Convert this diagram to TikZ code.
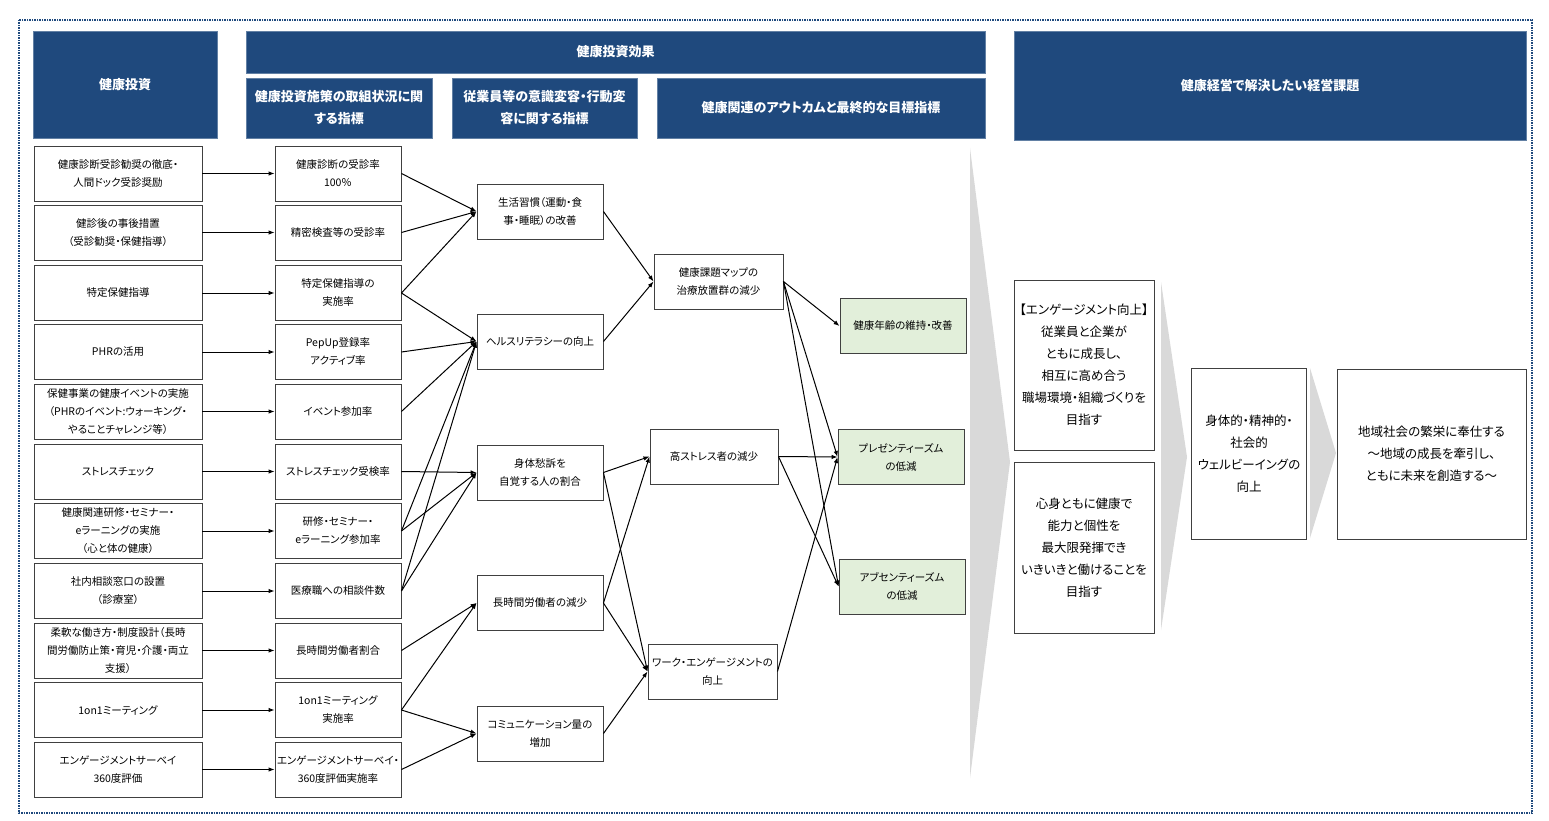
\documentclass[tikz,border=0pt]{standalone}
\usepackage{fontspec}
\setmainfont{Noto Sans CJK JP}[RawFeature=+palt]
\usetikzlibrary{arrows.meta}
\definecolor{headblue}{RGB}{31,73,125}
\definecolor{boxline}{RGB}{64,64,64}
\definecolor{goalgreen}{RGB}{226,239,218}
\definecolor{chevgray}{RGB}{217,217,217}
\newcommand{\boxfont}{\fontsize{10.5}{18}\selectfont}
\newcommand{\headfont}{\fontsize{13}{22}\selectfont\bfseries}
\newcommand{\issuefont}{\fontsize{12.5}{22}\selectfont}
\begin{document}
\begin{tikzpicture}[%
    x=1pt, y=-1pt, > = {Latex[length=6pt, width=4.5pt]},
    every node/.style={align=center, inner sep=1pt},
    head/.style={fill=headblue, draw=headblue!70!white, text=white, font=\headfont},
    box/.style={draw=boxline, fill=white, line width=0.9pt, font=\boxfont, minimum height=55},
    goal/.style={box, fill=goalgreen},
    issue/.style={draw=boxline, fill=white, line width=0.9pt, font=\issuefont},
    link/.style={->, line width=1pt}]
    \useasboundingbox (0,0) rectangle (1549,821);
    \draw[headblue, line width=1.5pt, dash pattern=on 1.5pt off 1pt] (19,20) rectangle (1532,813);

    % grey chevrons
    \fill[chevgray] (970,148) -- (1010,462) -- (970,778) -- cycle;
    \fill[chevgray] (1161,282) -- (1187,457) -- (1161,630) -- cycle;
    \fill[chevgray] (1310,368) -- (1336,453) -- (1310,538) -- cycle;

    % headers
    \node[head, minimum width=184, minimum height=107] (InvHead) at (125,84.5) {健康投資};
    \node[head, minimum width=739, minimum height=42] (EffectHead) at (615.5,52) {健康投資効果};
    \node[head, minimum width=186, minimum height=60] (MeasureHead) at (339,108) {健康投資施策の取組状況に関\\する指標};
    \node[head, minimum width=185, minimum height=60] (BehaviorHead) at (544.5,108) {従業員等の意識変容・行動変\\容に関する指標};
    \node[head, minimum width=328, minimum height=60] (OutcomeHead) at (821,108) {健康関連のアウトカムと最終的な目標指標};
    \node[head, minimum width=512, minimum height=109] (IssueHead) at (1270,85.5) {健康経営で解決したい経営課題};

    % investments
    \node[box, minimum width=168] (Checkup) at (118,173.5) {健康診断受診勧奨の徹底・\\人間ドック受診奨励};
    \node[box, minimum width=168] (FollowUp) at (118,232.5) {健診後の事後措置\\（受診勧奨・保健指導）};
    \node[box, minimum width=168] (Guidance) at (118,293) {特定保健指導};
    \node[box, minimum width=168] (PHR) at (118,352) {PHRの活用};
    \node[box, minimum width=168] (Event) at (118,411.5) {保健事業の健康イベントの実施\\（PHRのイベント:ウォーキング・\\やることチャレンジ等）};
    \node[box, minimum width=168] (Stress) at (118,471.5) {ストレスチェック};
    \node[box, minimum width=168] (Seminar) at (118,531) {健康関連研修・セミナー・\\eラーニングの実施\\（心と体の健康）};
    \node[box, minimum width=168] (Consult) at (118,591) {社内相談窓口の設置\\（診療室）};
    \node[box, minimum width=168] (Flex) at (118,650.5) {柔軟な働き方・制度設計（長時\\間労働防止策・育児・介護・両立\\支援）};
    \node[box, minimum width=168] (OneOnOne) at (118,710) {1on1ミーティング};
    \node[box, minimum width=168] (Survey) at (118,769.5) {エンゲージメントサーベイ\\360度評価};

    % measures
    \node[box, minimum width=126] (CheckupRate) at (338,173.5) {健康診断の受診率\\100％};
    \node[box, minimum width=126] (ExamRate) at (338,232.5) {精密検査等の受診率};
    \node[box, minimum width=126] (GuidanceRate) at (338,293) {特定保健指導の\\実施率};
    \node[box, minimum width=126] (PepUpRate) at (338,352) {PepUp登録率\\アクティブ率};
    \node[box, minimum width=126] (EventRate) at (338,411.5) {イベント参加率};
    \node[box, minimum width=126] (StressRate) at (338,471.5) {ストレスチェック受検率};
    \node[box, minimum width=126] (SeminarRate) at (338,531) {研修・セミナー・\\eラーニング参加率};
    \node[box, minimum width=126] (ConsultCount) at (338,591) {医療職への相談件数};
    \node[box, minimum width=126] (LongHoursRate) at (338,650.5) {長時間労働者割合};
    \node[box, minimum width=126] (OneOnOneRate) at (338,710) {1on1ミーティング\\実施率};
    \node[box, minimum width=126] (SurveyRate) at (338,769.5) {エンゲージメントサーベイ・\\360度評価実施率};

    % behaviour
    \node[box, minimum width=126] (Habit) at (540,211.5) {生活習慣（運動・食\\事・睡眠）の改善};
    \node[box, minimum width=126] (Literacy) at (540,341.5) {ヘルスリテラシーの向上};
    \node[box, minimum width=126] (Complaint) at (540,472.5) {身体愁訴を\\自覚する人の割合};
    \node[box, minimum width=126] (LongHours) at (540,603) {長時間労働者の減少};
    \node[box, minimum width=126] (Communication) at (540,733.5) {コミュニケーション量の\\増加};

    % outcomes
    \node[box, minimum width=129] (HealthMap) at (718.5,281.5) {健康課題マップの\\治療放置群の減少};
    \node[box, minimum width=128] (HighStress) at (714,456.5) {高ストレス者の減少};
    \node[box, minimum width=129] (WorkEngage) at (712.5,671.5) {ワーク・エンゲージメントの\\向上};
    \node[goal, minimum width=126] (HealthAge) at (903,326) {健康年齢の維持・改善};
    \node[goal, minimum width=126] (Presenteeism) at (901,457) {プレゼンティーズム\\の低減};
    \node[goal, minimum width=126] (Absenteeism) at (902,586.5) {アブセンティーズム\\の低減};

    % issues
    \node[issue, minimum width=140, minimum height=170] (Engagement) at (1084,365) {【エンゲージメント向上】\\従業員と企業が\\ともに成長し、\\相互に高め合う\\職場環境・組織づくりを\\目指す};
    \node[issue, minimum width=140, minimum height=171] (MindBody) at (1084,547.5) {心身ともに健康で\\能力と個性を\\最大限発揮でき\\いきいきと働けることを\\目指す};
    \node[issue, minimum width=115, minimum height=171] (WellBeing) at (1249,453.5) {身体的・精神的・\\社会的\\ウェルビーイングの\\向上};
    \node[issue, minimum width=189, minimum height=170] (Community) at (1431.5,454) {地域社会の繁栄に奉仕する\\～地域の成長を牽引し、\\ともに未来を創造する～};

    \draw[link] (Checkup.east) -- (CheckupRate.west);
    \draw[link] (FollowUp.east) -- (ExamRate.west);
    \draw[link] (Guidance.east) -- (GuidanceRate.west);
    \draw[link] (PHR.east) -- (PepUpRate.west);
    \draw[link] (Event.east) -- (EventRate.west);
    \draw[link] (Stress.east) -- (StressRate.west);
    \draw[link] (Seminar.east) -- (SeminarRate.west);
    \draw[link] (Consult.east) -- (ConsultCount.west);
    \draw[link] (Flex.east) -- (LongHoursRate.west);
    \draw[link] (OneOnOne.east) -- (OneOnOneRate.west);
    \draw[link] (Survey.east) -- (SurveyRate.west);

    \draw[link] (CheckupRate.east) -- (Habit.west);
    \draw[link] (ExamRate.east) -- (Habit.west);
    \draw[link] (GuidanceRate.east) -- (Habit.west);
    \draw[link] (GuidanceRate.east) -- (Literacy.west);
    \draw[link] (PepUpRate.east) -- (Literacy.west);
    \draw[link] (EventRate.east) -- (Literacy.west);
    \draw[link] (SeminarRate.east) -- (Literacy.west);
    \draw[link] (ConsultCount.east) -- (Literacy.west);
    \draw[link] (StressRate.east) -- (Complaint.west);
    \draw[link] (SeminarRate.east) -- (Complaint.west);
    \draw[link] (ConsultCount.east) -- (Complaint.west);
    \draw[link] (LongHoursRate.east) -- (LongHours.west);
    \draw[link] (OneOnOneRate.east) -- (LongHours.west);
    \draw[link] (OneOnOneRate.east) -- (Communication.west);
    \draw[link] (SurveyRate.east) -- (Communication.west);

    \draw[link] (Habit.east) -- (HealthMap.west);
    \draw[link] (Literacy.east) -- (HealthMap.west);
    \draw[link] (Complaint.east) -- (HighStress.west);
    \draw[link] (Complaint.east) -- (WorkEngage.west);
    \draw[link] (LongHours.east) -- (HighStress.west);
    \draw[link] (LongHours.east) -- (WorkEngage.west);
    \draw[link] (Communication.east) -- (WorkEngage.west);

    \draw[link] (HealthMap.east) -- (HealthAge.west);
    \draw[link] (HealthMap.east) -- (Presenteeism.west);
    \draw[link] (HealthMap.east) -- (Absenteeism.west);
    \draw[link] (HighStress.east) -- (Presenteeism.west);
    \draw[link] (HighStress.east) -- (Absenteeism.west);
    \draw[link] (WorkEngage.east) -- (Presenteeism.west);
\end{tikzpicture}
\end{document}
